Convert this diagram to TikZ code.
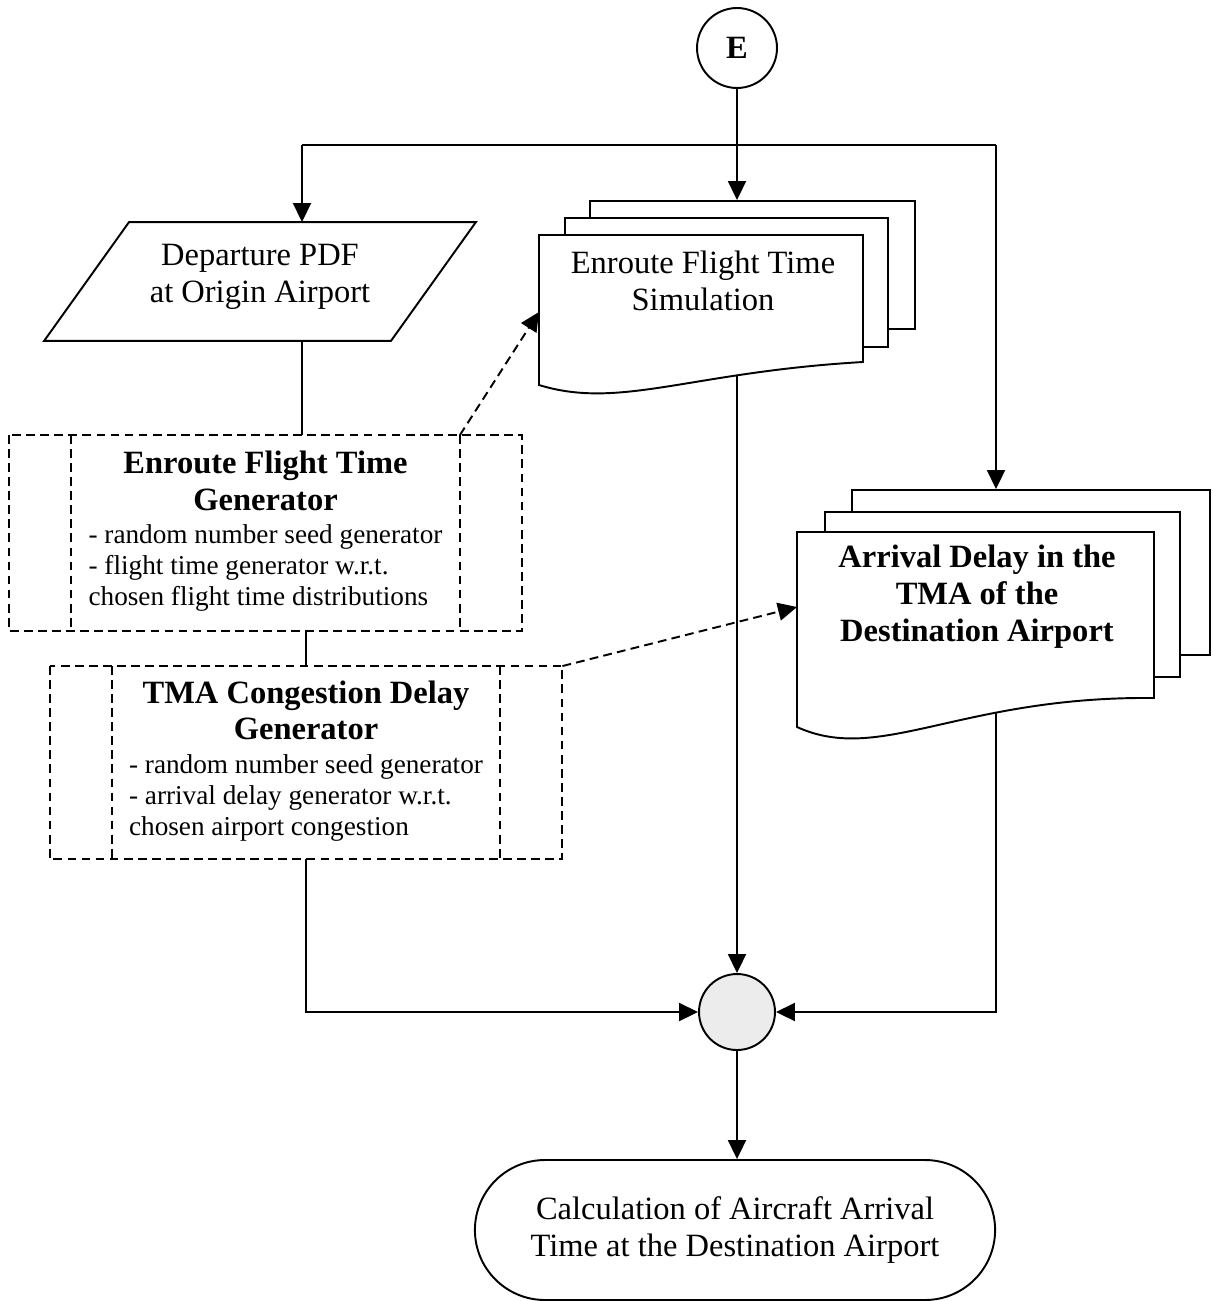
\documentclass[tikz,border=0pt]{standalone}
\usepackage{fontspec}
\setmainfont{Liberation Serif}
\usetikzlibrary{arrows.meta,shapes.misc,positioning}

\newcommand{\genfont}{\fontsize{15.5}{17.6}\selectfont}

\begin{document}
\begin{tikzpicture}[x=0.02cm,y=-0.02cm,line width=1.1pt,
                    font=\fontsize{18.5}{21}\selectfont,
                    flow/.style={-{Triangle[length=0.38cm,width=0.36cm]}},
                    dashes/.style={dash pattern=on 5pt off 3pt},
                    dash link/.style={flow,dashes},
                    conn/.style={circle,draw,minimum size=1.6cm,inner sep=0pt,font=\fontsize{18.5}{21}\selectfont\bfseries},
                    sheet/.style={rectangle,draw,fill=white,inner sep=0pt},
                    data/.style={rectangle,inner sep=0pt,minimum width=8.6cm,minimum height=2.34cm,align=center,text depth=9pt},
                    gen/.style={rectangle,inner sep=0pt,align=center,
                                minimum width=7.74cm,minimum height=3.88cm},
                    term/.style={rounded rectangle,draw,minimum width=10.64cm,minimum height=2.8cm,align=center},
                    mix/.style={circle,draw,fill=gray!15,minimum size=1.52cm,inner sep=0pt}]

  \useasboundingbox (0,0) rectangle (1213,1301);

  \node[conn] (E) at (737,48) {E};
  \coordinate (left) at (302,145);
  \coordinate (right) at (996,145);

  % enroute simulation stack
  \node[sheet,minimum width=6.5cm,minimum height=2.56cm] (simC) at (752.5,265) {};
  \node[sheet,minimum width=6.46cm,minimum height=2.58cm] (simB) at (726.5,282.5) {};
  \draw[fill=white] (539,235) -- (863,235) -- (863,362)
    .. controls (690,372) and (620,410) .. (539,385) -- cycle;
  \node[align=center] (sim) at (703,281) {Enroute Flight Time\\Simulation};
  \coordinate (simin) at (539,312);
  \coordinate (simout) at (737,375);

  % arrival delay stack
  \node[sheet,minimum width=7.16cm,minimum height=3.3cm] (arrC) at (1031,572.5) {};
  \node[sheet,minimum width=7.1cm,minimum height=3.3cm] (arrB) at (1002.5,594.5) {};
  \draw[fill=white] (797,532) -- (1154,532) -- (1154,698)
    .. controls (960,696) and (880,765) .. (797,727) -- cycle;
  \node[align=center,font=\fontsize{18.5}{21}\selectfont\bfseries] (arr) at (977,597)
    {Arrival Delay in the\\TMA of the\\Destination Airport};
  \coordinate (arrin) at (797,607);
  \coordinate (arrout) at (996,712);

  % departure data
  \node[data] (dep) at (260,281.5) {Departure PDF\\at Origin Airport};
  \draw ([xshift=1.7cm]dep.north west) -- (dep.north east) -- ([xshift=-1.7cm]dep.south east)
    -- (dep.south west) -- cycle;

  % generators
  \node[gen] (efg) at (265.5,533)
    {\textbf{Enroute Flight Time}\\\textbf{Generator}\\[-2pt]\genfont\begin{tabular}[t]{@{}l@{}}
     - random number seed generator\\- flight time generator w.r.t.\\chosen flight time distributions\end{tabular}};
  \draw[dashes] ([xshift=-1.24cm]efg.north west) rectangle ([xshift=1.24cm]efg.south east)
    (efg.north west) -- (efg.south west) (efg.north east) -- (efg.south east);

  \node[gen,minimum height=3.82cm] (tcg) at (306,762.5)
    {\textbf{TMA Congestion Delay}\\\textbf{Generator}\\[-2pt]\genfont\begin{tabular}[t]{@{}l@{}}
     - random number seed generator\\- arrival delay generator w.r.t.\\chosen airport congestion\end{tabular}};
  \draw[dashes] ([xshift=-1.24cm]tcg.north west) rectangle ([xshift=1.24cm]tcg.south east)
    (tcg.north west) -- (tcg.south west) (tcg.north east) -- (tcg.south east);

  \node[mix] (mix) at (737,1012) {};
  \node[term] (calc) at (735,1230) {Calculation of Aircraft Arrival\\Time at the Destination Airport};

  % connectors
  \draw[flow] (E) -- (E |- simC.north);
  \draw (left) -- (right);
  \draw[flow] (left) -- (left |- dep.north);
  \draw[flow] (right) -- (right |- arrC.north);
  \draw (left |- dep.south) -- (left |- efg.north);
  \draw (tcg.north |- efg.south) -- (tcg.north);
  \draw[flow] (tcg.south) |- (mix.west);
  \draw[flow] (simout) -- (mix.north);
  \draw[flow] (arrout) |- (mix.east);
  \draw[flow] (mix.south) -- (mix |- calc.north);
  \draw[dash link] (efg.north east) -- (simin);
  \draw[dash link] ([xshift=1.24cm]tcg.north east) -- (arrin);
\end{tikzpicture}
\end{document}
